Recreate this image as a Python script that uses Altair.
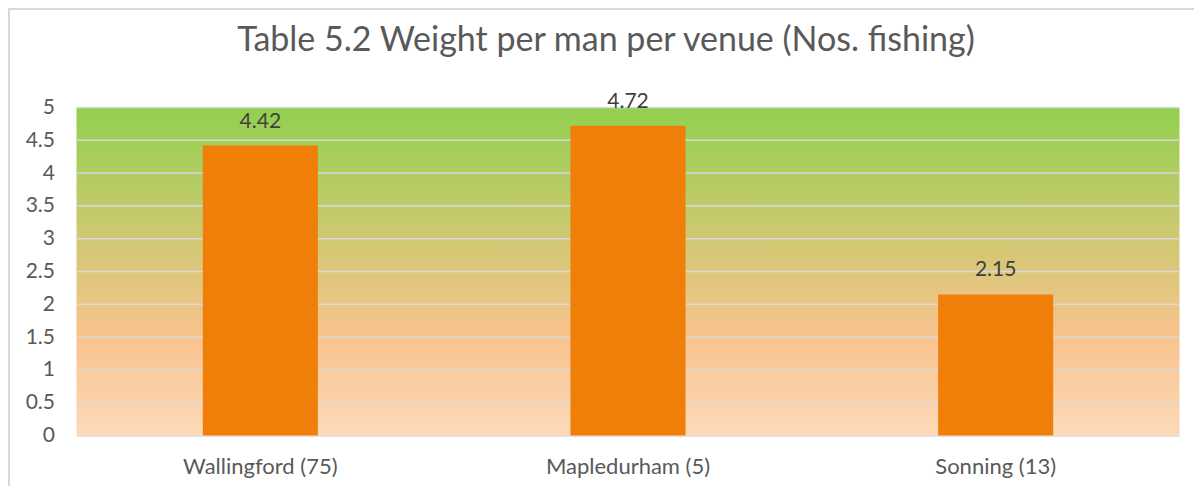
import altair as alt
import pandas as pd

# ---- data ----
venues = ["Wallingford (75)", "Mapledurham (5)", "Sonning (13)"]
weights = [4.42, 4.72, 2.15]
grid_values = [0.5, 1, 1.5, 2, 2.5, 3, 3.5, 4, 4.5, 5]
y_ticks = [0, 0.5, 1, 1.5, 2, 2.5, 3, 3.5, 4, 4.5, 5]
title_text = "Table 5.2 Weight per man per venue (Nos. fishing)"

W = 1103
H = 328
FONT = "Lato"
TXT = "#595959"

df = pd.DataFrame({"venue": venues, "weight": weights})
grid_df = pd.DataFrame({"v": grid_values})
one_df = pd.DataFrame({"t": [title_text]})

y_scale = alt.Scale(domain=[0, 5], nice=False, zero=True)
x_scale = alt.Scale(domain=venues, paddingInner=0.687, paddingOuter=0.3435)

background = alt.Chart(one_df).mark_rect(
    color=alt.Gradient(
        gradient="linear",
        stops=[
            alt.GradientStop(color="#92D050", offset=0),
            alt.GradientStop(color="#D2C874", offset=0.42),
            alt.GradientStop(color="#F9C38E", offset=0.7),
            alt.GradientStop(color="#FCDAB9", offset=1),
        ],
        x1=0, x2=0, y1=0, y2=1,
    )
).encode(x=alt.value(0), x2=alt.value(W), y=alt.value(0), y2=alt.value(H))

grid = alt.Chart(grid_df).mark_rule(color="#D9D9D9", strokeWidth=1.5).encode(
    y=alt.Y(
        "v:Q",
        scale=y_scale,
        title=None,
        axis=alt.Axis(
            values=y_ticks,
            tickCount=11,
            labelExpr="datum.value",
            ticks=False,
            domain=False,
            grid=False,
            labelOverlap=False,
            labelFont=FONT,
            labelFontSize=21,
            labelColor=TXT,
            labelPadding=22,
        ),
    )
)

bars = alt.Chart(df).mark_bar(color="#F07F09").encode(
    x=alt.X(
        "venue:N",
        sort=venues,
        scale=x_scale,
        title=None,
        axis=alt.Axis(
            labelAngle=0,
            ticks=False,
            domainColor="#D9D9D9",
            domainWidth=1.5,
            labelFont=FONT,
            labelFontSize=22,
            labelColor=TXT,
            labelPadding=21,
            grid=False,
        ),
    ),
    y=alt.Y("weight:Q", scale=y_scale, title=None),
)

labels = alt.Chart(df).mark_text(
    font=FONT, fontSize=21, color="#404040", baseline="alphabetic", dy=-18
).encode(
    x=alt.X("venue:N", sort=venues, scale=x_scale),
    y=alt.Y("weight:Q", scale=y_scale),
    text=alt.Text("weight:Q", format=".2f"),
)

title = alt.Chart(one_df).mark_text(
    font=FONT, fontSize=34, color=TXT, baseline="alphabetic", align="center"
).encode(
    x=alt.value(W / 2 - 22), y=alt.value(-57), text="t:N"
)

frame_top = alt.Chart(one_df).mark_rule(color="#D9D9D9", strokeWidth=2).encode(
    x=alt.value(-68.5), x2=alt.value(1125), y=alt.value(-98.5)
)
frame_left = alt.Chart(one_df).mark_rule(color="#D9D9D9", strokeWidth=2).encode(
    x=alt.value(-67.5), y=alt.value(-98.5), y2=alt.value(390)
)

chart = alt.layer(background, grid, bars, labels, title, frame_top, frame_left).properties(
    width=W,
    height=H,
    autosize=alt.AutoSizeParams(type="none"),
    padding={"left": 68.5, "top": 99.5, "right": 14, "bottom": 50},
).configure_view(stroke=None).configure_axisY(labelOverlap=False)

chart.save("out.html", embed_options={"renderer": "svg", "actions": False})
